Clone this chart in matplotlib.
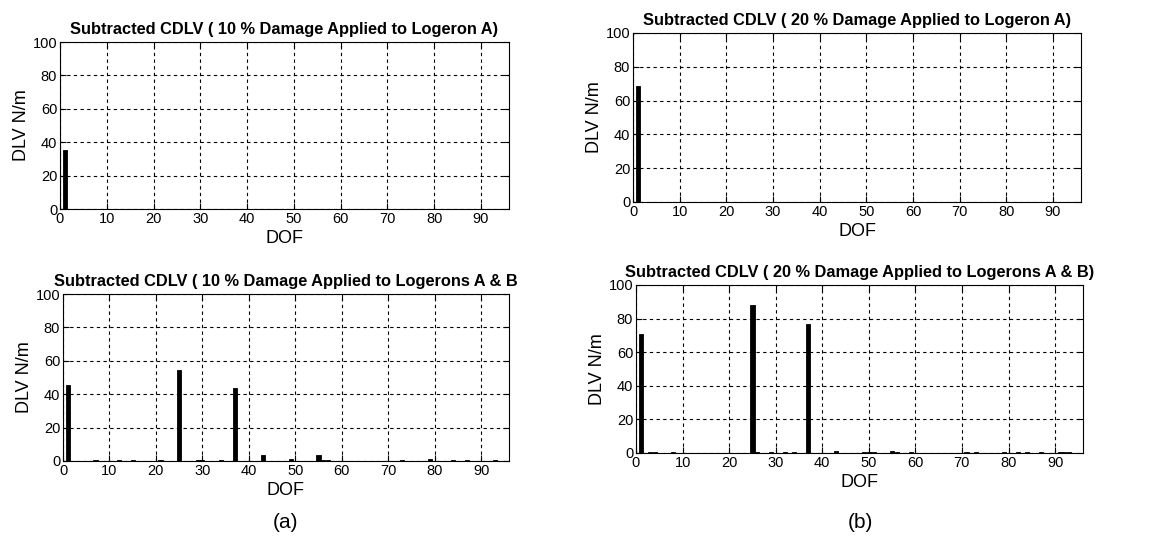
import matplotlib.pyplot as plt

plt.rcParams['font.family'] = ['Liberation Sans', 'DejaVu Sans']

# Data (non-zero DOF entries)
dof_10_a = [1]
dlv_10_a = [35.5]

dof_20_a = [1]
dlv_20_a = [68.5]

dof_10_ab = [1, 7, 12, 15, 21, 25, 29, 30, 34, 37, 43, 49, 55, 56, 57, 73, 79, 84, 87, 93]
dlv_10_ab = [45.5, 0.5, 0.5, 0.5, 0.5, 54.5, 0.5, 0.5, 0.5, 44.0, 3.5, 1.3, 3.5, 0.5, 0.5, 0.4, 1.3, 0.4, 0.4, 0.5]

dof_20_ab = [1, 3, 4, 8, 25, 26, 29, 32, 34, 37, 43, 49, 50, 51, 55, 56, 59,
             71, 73, 79, 82, 84, 87, 91, 92, 93]
dlv_20_ab = [71.0, 0.5, 0.5, 0.5, 88.0, 0.5, 0.4, 0.5, 0.5, 77.0, 1.2, 0.5, 0.5, 0.5, 1.2, 0.6, 0.4,
             0.5, 0.5, 0.3, 0.5, 0.5, 0.4, 0.5, 0.5, 0.5]

panels = [
    ('Subtracted CDLV ( 10 % Damage Applied to Logeron A)', dof_10_a, dlv_10_a, (60, 509, 42, 209)),
    ('Subtracted CDLV ( 20 % Damage Applied to Logeron A)', dof_20_a, dlv_20_a, (633, 1081, 33, 202)),
    ('Subtracted CDLV ( 10 % Damage Applied to Logerons A & B', dof_10_ab, dlv_10_ab, (63, 509, 294, 461)),
    ('Subtracted CDLV ( 20 % Damage Applied to Logerons A & B)', dof_20_ab, dlv_20_ab, (636, 1083, 285, 453)),
]

W, H = 1160, 548
fig = plt.figure(figsize=(W / 100, H / 100), dpi=100)

for title, x, y, (l, r, t, b) in panels:
    ax = fig.add_axes([l / W, 1 - b / H, (r - l) / W, (b - t) / H])
    ax.bar(x, y, width=0.9, color='black', edgecolor='black', linewidth=0.6)
    ax.set_xlim(0, 96)
    ax.set_ylim(0, 100)
    ax.set_xticks(range(0, 100, 10))
    ax.set_yticks(range(0, 101, 20))
    ax.grid(True, color='black', linestyle=(0, (3, 3)), linewidth=0.8)
    ax.set_axisbelow(True)
    ax.tick_params(direction='in', length=4, labelsize=10.5, pad=2, top=True, right=True)
    for s in ax.spines.values():
        s.set_linewidth(0.8)
    ax.set_title(title, fontsize=11.8, fontweight='bold', pad=6)
    ax.set_xlabel('DOF', fontsize=13, labelpad=3)
    ax.set_ylabel('DLV N/m', fontsize=13, labelpad=2)

fig.text(285 / W, 1 - 522 / H, '(a)', fontsize=15, ha='center', va='center')
fig.text(860 / W, 1 - 522 / H, '(b)', fontsize=15, ha='center', va='center')

fig.savefig('out.png', dpi=100)
